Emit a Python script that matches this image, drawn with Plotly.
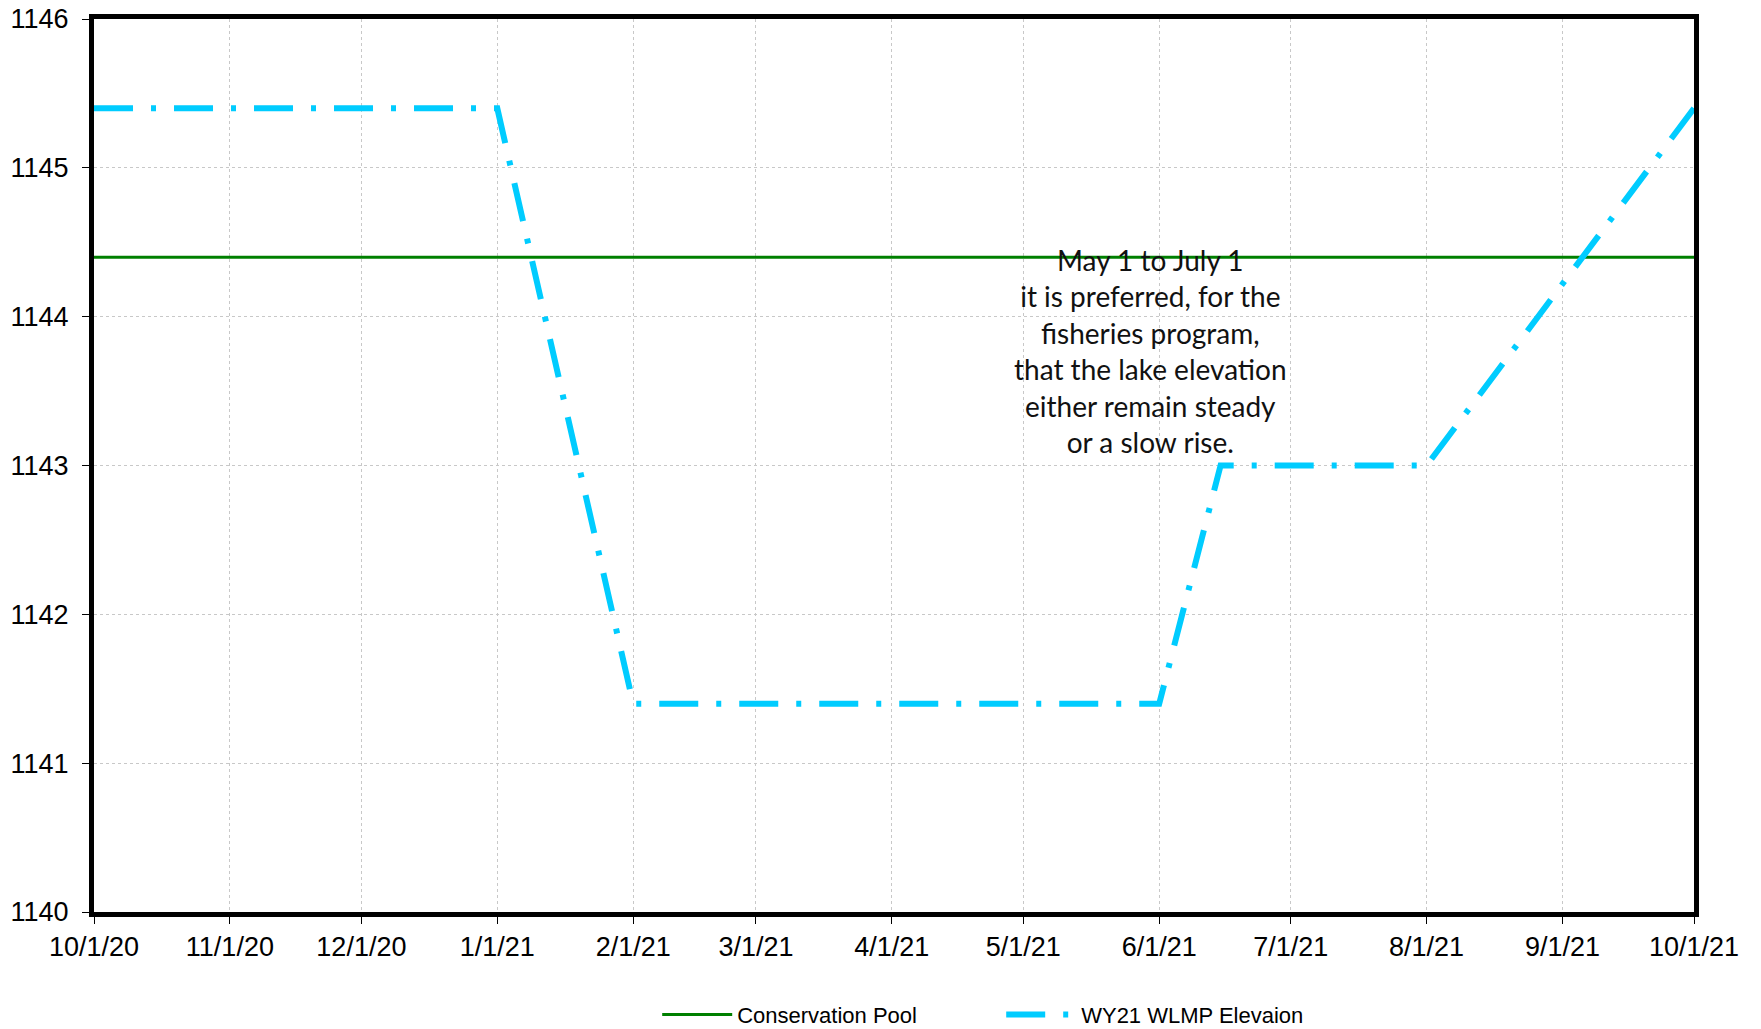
import plotly.graph_objects as go

# Data
wlmp_dates = ["2020-10-01", "2021-01-01", "2021-02-01", "2021-06-01", "2021-06-15", "2021-08-01", "2021-10-01"]
wlmp_elev = [1145.4, 1145.4, 1141.4, 1141.4, 1143.0, 1143.0, 1145.4]
pool_dates = ["2020-10-01", "2021-10-01"]
pool_elev = [1144.4, 1144.4]
tick_dates = ["2020-10-01", "2020-11-01", "2020-12-01", "2021-01-01", "2021-02-01", "2021-03-01",
              "2021-04-01", "2021-05-01", "2021-06-01", "2021-07-01", "2021-08-01", "2021-09-01", "2021-10-01"]
tick_labels = ["10/1/20", "11/1/20", "12/1/20", "1/1/21", "2/1/21", "3/1/21", "4/1/21",
               "5/1/21", "6/1/21", "7/1/21", "8/1/21", "9/1/21", "10/1/21"]
y_ticks = [1140, 1141, 1142, 1143, 1144, 1145, 1146]
note_text = ("May 1 to July 1<br>it is preferred, for the<br>fisheries program,<br>"
             "that the lake elevation<br>either remain steady<br>or a slow rise.")

fig = go.Figure()
fig.add_trace(go.Scatter(
    x=pool_dates, y=pool_elev, mode="lines", name="Conservation Pool",
    line=dict(color="#008000", width=3),
))
fig.add_trace(go.Scatter(
    x=wlmp_dates, y=wlmp_elev, mode="lines", name="WY21 WLMP Elevaion",
    line=dict(color="#00CCFF", width=6, dash="39px,18px,5px,18px"),
))

fig.add_annotation(
    x="2021-05-30", y=1143.77, xref="x", yref="y", text=note_text, showarrow=False,
    font=dict(family="Lato, Open Sans, sans-serif", size=28, color="#111111"),
    align="center", xanchor="center", yanchor="middle",
)

axis_font = dict(family="Liberation Sans, Arial, sans-serif", size=27, color="#000000")

fig.update_layout(
    width=1761, height=1029,
    margin=dict(l=94, r=67, t=19, b=117, autoexpand=False),
    paper_bgcolor="white", plot_bgcolor="white",
    showlegend=True,
    legend=dict(orientation="h", x=0.352, xanchor="left", y=-0.115, yanchor="middle",
                font=dict(family="Liberation Sans, Arial, sans-serif", size=22, color="#000000"),
                itemwidth=70, tracegroupgap=0, entrywidth=259),
    xaxis=dict(
        range=["2020-10-01", "2021-10-01"], tickmode="array", tickvals=tick_dates, ticktext=tick_labels,
        showgrid=True, gridcolor="#c8c8c8", griddash="dot", gridwidth=1,
        showline=True, linecolor="black", linewidth=5, mirror=True,
        ticks="outside", ticklen=7, tickcolor="black", tickwidth=1,
        tickfont=axis_font, ticklabelstandoff=0, zeroline=False, automargin=False,
    ),
    yaxis=dict(
        range=[1140, 1146], tickmode="array", tickvals=y_ticks,
        showgrid=True, gridcolor="#c8c8c8", griddash="dot", gridwidth=1,
        showline=True, linecolor="black", linewidth=5, mirror=True,
        ticks="outside", ticklen=7, tickcolor="black", tickwidth=1,
        tickfont=axis_font, ticklabelstandoff=8, zeroline=False, automargin=False,
    ),
)

fig.write_html(
    "out.html",
    config={"displayModeBar": False},
    post_script="document.body.style.margin='0';document.body.style.overflow='hidden';",
)
